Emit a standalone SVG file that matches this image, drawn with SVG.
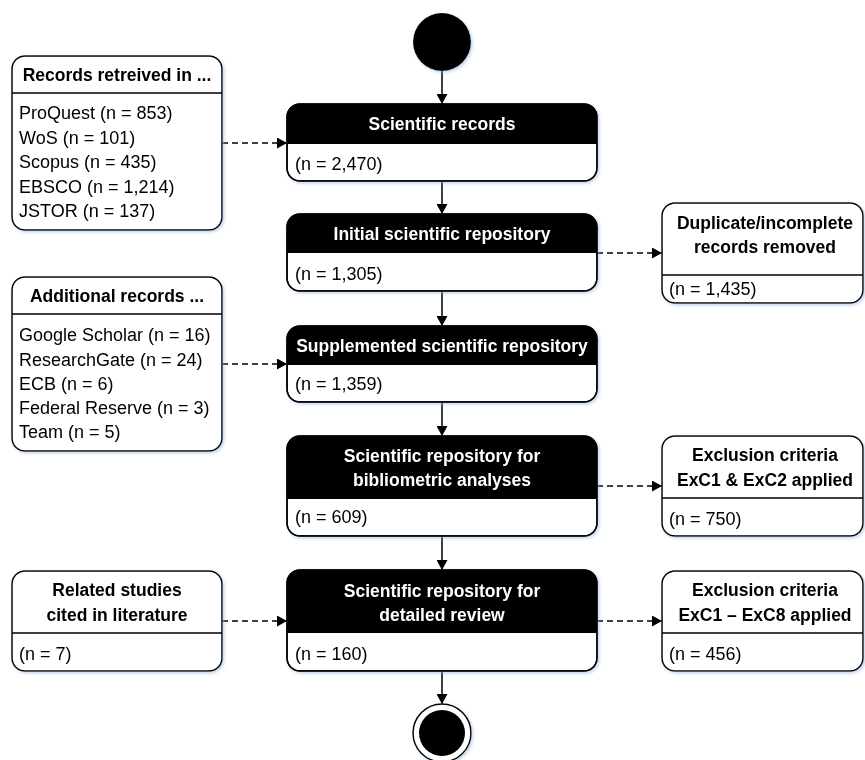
<svg xmlns="http://www.w3.org/2000/svg" width="865" height="760" viewBox="0 0 865 760">
<style>
text{font-family:"Liberation Sans",Arial,sans-serif;font-size:18px;fill:#000}
.b{font-weight:bold;font-size:17.5px}
.w{fill:#fff;font-weight:bold;font-size:17.5px}
.c{text-anchor:middle}
.box{fill:#fff;stroke:#000;stroke-width:1.5}
.hd{fill:#000}
.ln{stroke:#000;stroke-width:1.5;fill:none}
.solid{stroke:#000;stroke-width:1.5;fill:none;marker-end:url(#ah)}
.dash{stroke:#000;stroke-width:1.5;fill:none;stroke-dasharray:6 4;marker-end:url(#ah)}
.sh{filter:url(#shadow)}
</style>
<defs>
<marker id="ah" markerUnits="userSpaceOnUse" markerWidth="11" markerHeight="11" refX="10" refY="5.5" orient="auto">
<path d="M0,0 L10,5.5 L0,11 z" fill="#000"/>
</marker>
<filter id="shadow" x="-10%" y="-10%" width="125%" height="130%">
<feDropShadow dx="1.5" dy="1.5" stdDeviation="1.5" flood-color="#8fb0d8" flood-opacity="0.55"/>
</filter>
</defs>

<g id="connectors">
<line class="solid" x1="442" y1="71" x2="442" y2="104"/>
<line class="solid" x1="442" y1="181" x2="442" y2="214"/>
<line class="solid" x1="442" y1="291" x2="442" y2="326"/>
<line class="solid" x1="442" y1="402" x2="442" y2="436"/>
<line class="solid" x1="442" y1="536" x2="442" y2="570"/>
<line class="solid" x1="442" y1="671" x2="442" y2="704"/>
<line class="dash" x1="222" y1="143" x2="287" y2="143"/>
<line class="dash" x1="222" y1="364" x2="287" y2="364"/>
<line class="dash" x1="222" y1="621" x2="287" y2="621"/>
<line class="dash" x1="597" y1="253" x2="662" y2="253"/>
<line class="dash" x1="597" y1="486" x2="662" y2="486"/>
<line class="dash" x1="597" y1="621" x2="662" y2="621"/>
</g>

<g id="start">
<circle cx="442" cy="42" r="29" fill="#000" class="sh"/>
</g>

<g id="scientific-records" class="sh">
<rect class="box" x="287" y="104" width="310" height="77" rx="13"/>
<path class="hd" d="M287,144 V117 A13,13 0 0 1 300,104 H584 A13,13 0 0 1 597,117 V144 Z"/>
<rect x="287" y="104" width="310" height="77" rx="13" fill="none" stroke="#000" stroke-width="1.5"/>
<text class="w c" x="442" y="130">Scientific records</text>
<text x="295" y="170">(n = 2,470)</text>
</g>

<g id="initial-repository" class="sh">
<rect class="box" x="287" y="214" width="310" height="77" rx="13"/>
<path class="hd" d="M287,253 V227 A13,13 0 0 1 300,214 H584 A13,13 0 0 1 597,227 V253 Z"/>
<rect x="287" y="214" width="310" height="77" rx="13" fill="none" stroke="#000" stroke-width="1.5"/>
<text class="w c" x="442" y="240">Initial scientific repository</text>
<text x="295" y="280">(n = 1,305)</text>
</g>

<g id="supplemented-repository" class="sh">
<rect class="box" x="287" y="326" width="310" height="76" rx="13"/>
<path class="hd" d="M287,365 V339 A13,13 0 0 1 300,326 H584 A13,13 0 0 1 597,339 V365 Z"/>
<rect x="287" y="326" width="310" height="76" rx="13" fill="none" stroke="#000" stroke-width="1.5"/>
<text class="w c" x="442" y="352">Supplemented scientific repository</text>
<text x="295" y="390">(n = 1,359)</text>
</g>

<g id="bibliometric-repository" class="sh">
<rect class="box" x="287" y="436" width="310" height="100" rx="13"/>
<path class="hd" d="M287,499 V449 A13,13 0 0 1 300,436 H584 A13,13 0 0 1 597,449 V499 Z"/>
<rect x="287" y="436" width="310" height="100" rx="13" fill="none" stroke="#000" stroke-width="1.5"/>
<text class="w c" x="442" y="462">Scientific repository for</text>
<text class="w c" x="442" y="486">bibliometric analyses</text>
<text x="295" y="523">(n = 609)</text>
</g>

<g id="detailed-review-repository" class="sh">
<rect class="box" x="287" y="570" width="310" height="101" rx="13"/>
<path class="hd" d="M287,633 V583 A13,13 0 0 1 300,570 H584 A13,13 0 0 1 597,583 V633 Z"/>
<rect x="287" y="570" width="310" height="101" rx="13" fill="none" stroke="#000" stroke-width="1.5"/>
<text class="w c" x="442" y="597">Scientific repository for</text>
<text class="w c" x="442" y="621">detailed review</text>
<text x="295" y="660">(n = 160)</text>
</g>

<g id="end">
<circle cx="442" cy="733" r="29" fill="#fff" stroke="#000" stroke-width="1.5" class="sh"/>
<circle cx="442" cy="733" r="23" fill="#000"/>
</g>

<g id="records-retrieved" class="sh">
<rect class="box" x="12" y="56" width="210" height="174" rx="13"/>
<line class="ln" x1="12" y1="93" x2="222" y2="93"/>
<text class="b c" x="117" y="81">Records retreived in ...</text>
<text x="19" y="119">ProQuest (n = 853)</text>
<text x="19" y="144">WoS (n = 101)</text>
<text x="19" y="168">Scopus (n = 435)</text>
<text x="19" y="193">EBSCO (n = 1,214)</text>
<text x="19" y="217">JSTOR (n = 137)</text>
</g>

<g id="additional-records" class="sh">
<rect class="box" x="12" y="277" width="210" height="174" rx="13"/>
<line class="ln" x1="12" y1="314" x2="222" y2="314"/>
<text class="b c" x="117" y="302">Additional records ...</text>
<text x="19" y="341">Google Scholar (n = 16)</text>
<text x="19" y="366">ResearchGate (n = 24)</text>
<text x="19" y="390">ECB (n = 6)</text>
<text x="19" y="414">Federal Reserve (n = 3)</text>
<text x="19" y="438">Team (n = 5)</text>
</g>

<g id="related-studies" class="sh">
<rect class="box" x="12" y="571" width="210" height="100" rx="13"/>
<line class="ln" x1="12" y1="633" x2="222" y2="633"/>
<text class="b c" x="117" y="596">Related studies</text>
<text class="b c" x="117" y="621">cited in literature</text>
<text x="19" y="660">(n = 7)</text>
</g>

<g id="duplicates-removed" class="sh">
<rect class="box" x="662" y="203" width="201" height="100" rx="13"/>
<line class="ln" x1="662" y1="275" x2="863" y2="275"/>
<text class="b c" x="765" y="229">Duplicate/incomplete</text>
<text class="b c" x="765" y="253">records removed</text>
<text x="669" y="295">(n = 1,435)</text>
</g>

<g id="exclusion-1-2" class="sh">
<rect class="box" x="662" y="436" width="201" height="100" rx="13"/>
<line class="ln" x1="662" y1="498" x2="863" y2="498"/>
<text class="b c" x="765" y="461">Exclusion criteria</text>
<text class="b c" x="765" y="486">ExC1 &amp; ExC2 applied</text>
<text x="669" y="525">(n = 750)</text>
</g>

<g id="exclusion-1-8" class="sh">
<rect class="box" x="662" y="571" width="201" height="100" rx="13"/>
<line class="ln" x1="662" y1="633" x2="863" y2="633"/>
<text class="b c" x="765" y="596">Exclusion criteria</text>
<text class="b c" x="765" y="621">ExC1 – ExC8 applied</text>
<text x="669" y="660">(n = 456)</text>
</g>
</svg>
